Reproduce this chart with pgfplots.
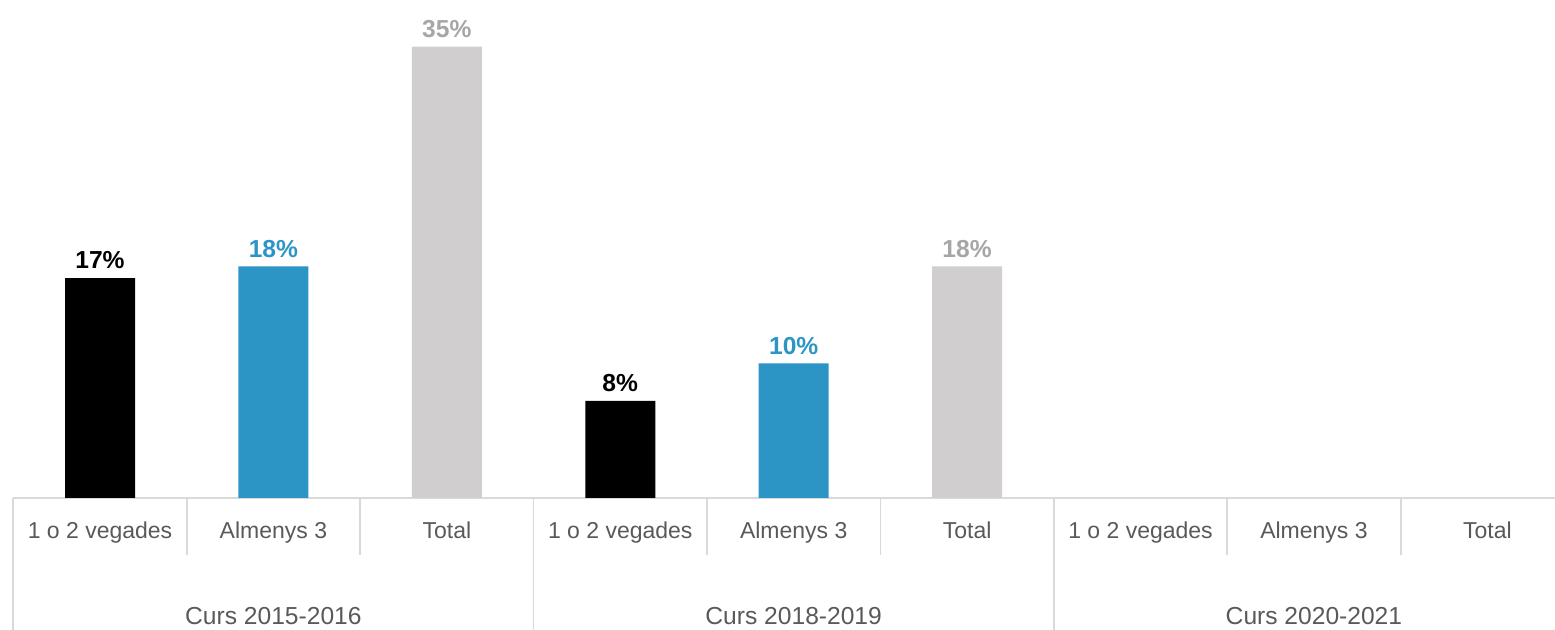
\documentclass[border=0pt]{standalone}
\usepackage{pgfplots}
\pgfplotsset{compat=1.18}
\usepackage{fontspec}
\setmainfont{Liberation Sans}
\definecolor{barblue}{HTML}{2C95C5}
\definecolor{bargray}{HTML}{D0CECE}
\definecolor{lblgray}{HTML}{A6A6A6}
\definecolor{txtgray}{HTML}{595959}
\definecolor{linegray}{HTML}{D9D9D9}
\begin{document}
\begin{tikzpicture}
\begin{axis}[
  scale only axis, width=770.85pt, height=249pt,
  xmin=-0.5, xmax=8.39, ymin=0, ymax=38.5,
  ybar, bar width=35pt, bar shift=0pt,
  axis x line*=bottom, hide y axis,
  axis line style={linegray, line width=0.9pt},
  xtick={0,...,8}, major tick length=0pt,
  xticklabels={1 o 2 vegades,Almenys 3,Total,1 o 2 vegades,Almenys 3,Total,1 o 2 vegades,Almenys 3,Total},
  xticklabel style={anchor=base, yshift=-20.5pt, text=txtgray, font=\fontsize{11.5}{14}\selectfont},
  point meta=explicit,
  /pgf/number format/assume math mode=true,
  nodes near coords={\pgfmathprintnumber[fixed,precision=0]{\pgfplotspointmeta}\%},
  every node near coord/.append style={font=\bfseries\fontsize{12.3}{14}\selectfont, anchor=south, yshift=1pt},
  clip=false,
]
\addplot[fill=black, draw=none, every node near coord/.append style={text=black}] coordinates {(0,17.0) [17] (3,7.5) [8]};
\addplot[fill=barblue, draw=none, every node near coord/.append style={text=barblue}] coordinates {(1,17.9) [18] (4,10.4) [10]};
\addplot[fill=bargray, draw=none, every node near coord/.append style={text=lblgray}] coordinates {(2,34.9) [35] (5,17.9) [18]};
% separators
\pgfplotsinvokeforeach{0.5,1.5,3.5,4.5,6.5,7.5}{
  \draw[linegray, line width=0.9pt] (axis cs:#1,0) -- ++(0pt,-28.5pt);
}
\pgfplotsinvokeforeach{-0.5,2.5,5.5,8.5}{
  \draw[linegray, line width=0.9pt] (axis cs:#1,0) -- ++(0pt,-70pt);
}
\node[anchor=base, text=txtgray, font=\fontsize{12.3}{14}\selectfont] at ([yshift=-63.5pt]axis cs:1,0) {Curs 2015-2016};
\node[anchor=base, text=txtgray, font=\fontsize{12.3}{14}\selectfont] at ([yshift=-63.5pt]axis cs:4,0) {Curs 2018-2019};
\node[anchor=base, text=txtgray, font=\fontsize{12.3}{14}\selectfont] at ([yshift=-63.5pt]axis cs:7,0) {Curs 2020-2021};
\end{axis}
\pgfresetboundingbox
\path (-6.65pt,-66pt) rectangle (770.85pt,249pt);
\end{tikzpicture}
\end{document}
